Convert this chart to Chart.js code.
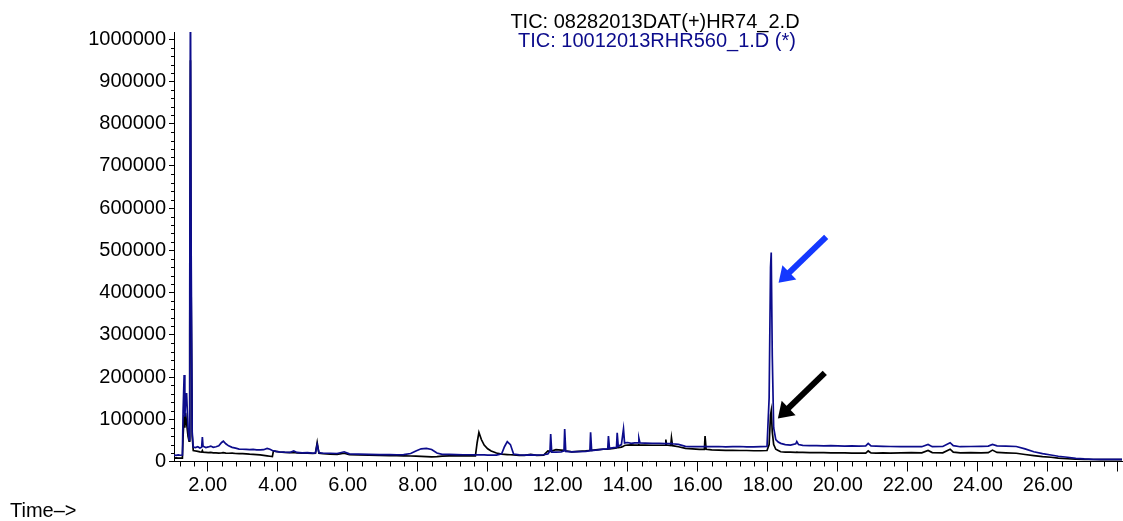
<!DOCTYPE html>
<html>
<head>
<meta charset="utf-8">
<script src="https://cdn.jsdelivr.net/npm/chart.js@4.4.0/dist/chart.umd.min.js"></script>
<style>
  html, body { margin: 0; padding: 0; background: #fff; }
  canvas { display: block; }
</style>
</head>
<body>
<canvas id="ticChart" width="1123" height="521"></canvas>
<script>
// Retention time (min) and total ion current for the two runs
const retTime = [
    // solvent front
    1.04, 1.10, 1.16, 1.22, 1.28, 1.30, 1.33, 1.35, 1.37, 1.40, 1.44, 1.47, 1.49, 1.51, 1.53, 1.56, 1.59,
    1.65, 1.72, 1.78, 1.83, 1.85, 1.87, 1.95, 2.02, 2.09, 2.16, 2.24, 2.32, 2.40, 2.45, 2.52, 2.60, 2.70, 2.80, 2.90, 3.00,
    3.10, 3.20, 3.30, 3.40, 3.50, 3.60, 3.70, 3.78, 3.85, 3.88, 3.95, 4.05, 4.20, 4.35, 4.46, 4.55, 4.70, 4.85, 5.00, 5.08, 5.13, 5.18, 5.30, 5.50, 5.70, 5.90,
    6.05, 6.30, 6.60, 6.90, 7.20, 7.40, 7.60, 7.80, 7.95, 8.10, 8.25, 8.40, 8.55, 8.70, 8.90, 9.10, 9.30, 9.50, 9.65,
    9.70, 9.75, 9.82, 9.90, 10.00, 10.10, 10.25, 10.40, 10.48, 10.56, 10.65, 10.74, 10.90, 11.05, 11.23, 11.40, 11.60,
    11.72, 11.78, 11.80, 11.83, 11.95, 12.10, 12.18, 12.20, 12.23, 12.40, 12.60, 12.80, 12.92, 12.94, 12.97, 13.15, 13.30, 13.43, 13.45, 13.48, 13.60, 13.68, 13.70, 13.73, 13.82, 13.88, 13.91,
    14.00, 14.10, 14.20, 14.30, 14.32, 14.35, 14.50, 14.70, 14.90, 15.07, 15.09, 15.11, 15.23, 15.25, 15.28, 15.45, 15.65, 15.85, 16.05, 16.19, 16.21, 16.24, 16.40, 16.60, 16.80, 17.00, 17.20, 17.40, 17.60, 17.80, 17.98,
    18.04, 18.08, 18.10, 18.13, 18.17, 18.23, 18.30, 18.37, 18.50, 18.65, 18.80, 18.83, 18.88, 19.00, 19.20, 19.40, 19.60, 19.80, 20.00, 20.20, 20.40, 20.60, 20.80, 20.87, 20.95,
    21.10, 21.30, 21.50, 21.80, 22.10, 22.40, 22.58, 22.70, 23.00, 23.21, 23.30, 23.50, 23.80, 24.10, 24.30, 24.42, 24.55, 24.80, 25.10, 25.35, 25.60, 25.85, 26.09, 26.30, 26.56, 26.80, 27.04, 27.30, 27.50, 27.80, 28.12
];

// 08282013DAT(+)HR74_2.D
const ticBlack = [
    8000, 8500, 7800, 8200, 8000, 60000, 110000, 80000, 115000, 90000, 60000, 48000, 300000, 950000, 400000, 60000, 26000,
    25000, 24000, 23000, 22500, 26000, 22000, 21500, 21000, 21500, 20500, 20500, 20000, 20500, 21000, 20000, 19500, 19800, 19000, 18800, 18500,
    18200, 17500, 17000, 16500, 15500, 14500, 13500, 12500, 11500, 25000, 24000, 22500, 21500, 21000, 21500, 20500, 20000, 19500, 19000, 19500, 45000, 19500, 18500, 17500, 17000, 19500,
    16500, 15500, 15000, 14500, 14000, 14000, 13500, 13000, 12500, 12000, 11500, 11000, 11500, 12500, 13500, 13500, 13500, 13500, 13500,
    45000, 69000, 52000, 39000, 30000, 25000, 20000, 17500, 17000, 16500, 16000, 15500, 14500, 14500, 17000, 14500, 15000,
    25000, 24000, 24000, 25000, 28000, 27000, 26500, 26500, 25500, 23000, 24000, 25000, 26000, 26000, 26500, 28000, 29000, 29500, 30000, 30000, 31000, 32000, 33000, 33000, 34000, 36000, 38000,
    39000, 39500, 39000, 39000, 39500, 39000, 39000, 38500, 38500, 39000, 52000, 39000, 38000, 56000, 37500, 35000, 31000, 30000, 28500, 28500, 60000, 29000, 27500, 27000, 26500, 26500, 26000, 26000, 25500, 25500, 26000,
    40000, 110000, 120000, 70000, 40000, 29000, 26000, 23000, 22000, 22000, 21800, 22000, 21800, 21500, 21000, 21000, 21000, 20500, 20500, 20500, 20000, 20000, 20000, 25000, 20500,
    20000, 20500, 20000, 20500, 21000, 20500, 26000, 21000, 20500, 29000, 22000, 20500, 21000, 20500, 21000, 27000, 21500, 20500, 19500, 16500, 13800, 11500, 10000, 8000, 6500, 5500, 5000, 4700, 4500, 4500, 4500
];

// 10012013RHR560_1.D (*)
const ticBlue = [
    15000, 14500, 15500, 14800, 15200, 120000, 205000, 106000, 140000, 162000, 80000, 51000, 400000, 1150000, 500000, 70000, 34000,
    33000, 35000, 32000, 34000, 58000, 36000, 33000, 34500, 36500, 33500, 35000, 37000, 45000, 48000, 42000, 37000, 33500, 31500, 29500, 29000,
    28500, 28000, 28500, 27500, 27500, 28000, 31000, 29000, 26000, 25500, 24000, 23000, 22000, 21500, 25000, 21500, 20500, 21000, 20000, 20500, 40000, 21000, 19500, 19500, 19000, 23000,
    18000, 17500, 17000, 16500, 16500, 16000, 16500, 19000, 25000, 30000, 31000, 28500, 20000, 17000, 17000, 16500, 16000, 16000, 15500,
    15500, 15500, 15500, 15500, 15000, 15000, 15000, 18000, 35000, 47000, 40000, 17500, 15500, 15000, 15500, 15000, 16000,
    18000, 25000, 65000, 22000, 22000, 23000, 25000, 77000, 24000, 23000, 23500, 24000, 25500, 69000, 26000, 27500, 29500, 30000, 60000, 31000, 33000, 33500, 68000, 36000, 40000, 77000, 44000,
    45000, 43000, 44000, 44000, 55000, 44000, 43500, 43000, 43000, 42500, 43000, 42500, 42500, 43000, 42000, 40500, 36000, 35000, 35500, 35000, 36000, 35000, 35000, 35500, 34500, 35000, 35500, 34500, 34500, 35000, 35500,
    150000, 460000, 495000, 250000, 80000, 52000, 46000, 43000, 40000, 39000, 42000, 47000, 40000, 38000, 37500, 37500, 37000, 37500, 37000, 36500, 37000, 36500, 37000, 43000, 37000,
    36500, 36000, 35500, 35000, 35500, 35000, 40500, 35000, 35500, 44500, 37500, 35000, 35500, 36000, 36500, 40500, 37000, 36500, 35500, 30000, 23000, 18500, 15400, 12500, 10000, 7500, 6000, 5200, 5000, 5000, 5000
];

// abundance tick labels
const abundanceTicks = [0, 100000, 200000, 300000, 400000, 500000, 600000, 700000, 800000, 900000, 1000000];

// arrows pointing at the 18.1 min peak, [time, abundance]
const arrowTails = [[19.67, 532000], [19.63, 210000]];
const arrowTips = [[18.31, 423000], [18.29, 102000]];

const headerLines = ['TIC: 08282013DAT(+)HR74_2.D', 'TIC: 10012013RHR560_1.D (*)'];

const timeRange = [1.04, 28.12];
const abundanceMax = 1017000;
const xMajorStep = 2;
const xMinorStep = 0.4;
const yMajorStep = 100000;
const yMinorStep = 20000;

const FONT = '"Liberation Sans", Arial, sans-serif';
const NAVY = '#0c0c8c';

// short minor tick marks on both axes
const minorTicks = {
    id: 'minorTicks',
    afterDraw(chart) {
        const { ctx, chartArea, scales: { x, y } } = chart;
        ctx.save();
        ctx.strokeStyle = '#000';
        ctx.lineWidth = 1;
        ctx.beginPath();
        for (let k = 0; k * yMinorStep <= y.max; k++) {
            if ((k * yMinorStep) % yMajorStep === 0) continue;
            const py = Math.round(y.getPixelForValue(k * yMinorStep)) + 0.5;
            ctx.moveTo(chartArea.left - 3, py);
            ctx.lineTo(chartArea.left, py);
        }
        for (let k = Math.ceil(x.min / xMinorStep); k * xMinorStep <= x.max; k++) {
            if (k % 5 === 0) continue;
            const px = Math.round(x.getPixelForValue(k * xMinorStep)) + 0.5;
            ctx.moveTo(px, chartArea.bottom);
            ctx.lineTo(px, chartArea.bottom + 5);
        }
        ctx.stroke();
        ctx.restore();
    }
};

// thick arrows with a filled head
const peakArrows = {
    id: 'peakArrows',
    afterDatasetsDraw(chart) {
        const { ctx, scales: { x, y } } = chart;
        const colors = ['#1438ff', '#000'];
        ctx.save();
        arrowTails.forEach((tail, i) => {
            const x0 = x.getPixelForValue(tail[0]), y0 = y.getPixelForValue(tail[1]);
            const x1 = x.getPixelForValue(arrowTips[i][0]), y1 = y.getPixelForValue(arrowTips[i][1]);
            const len = Math.hypot(x1 - x0, y1 - y0);
            const dx = (x1 - x0) / len, dy = (y1 - y0) / len;
            const headLen = 15, headHalf = 10;
            const bx = x1 - dx * headLen, by = y1 - dy * headLen;
            ctx.strokeStyle = colors[i];
            ctx.fillStyle = colors[i];
            ctx.lineWidth = 6;
            ctx.lineCap = 'butt';
            ctx.beginPath();
            ctx.moveTo(x0, y0);
            ctx.lineTo(bx + dx, by + dy);
            ctx.stroke();
            ctx.beginPath();
            ctx.moveTo(x1, y1);
            ctx.lineTo(bx - dy * headHalf, by + dx * headHalf);
            ctx.lineTo(bx + dy * headHalf, by - dx * headHalf);
            ctx.closePath();
            ctx.fill();
        });
        ctx.restore();
    }
};

// file names on top and the time label under the y axis
const headerText = {
    id: 'headerText',
    afterDraw(chart) {
        const { ctx } = chart;
        ctx.save();
        ctx.font = '20px ' + FONT;
        ctx.textBaseline = 'alphabetic';
        ctx.textAlign = 'center';
        ctx.fillStyle = '#000';
        ctx.fillText(headerLines[0], 655, 28);
        ctx.fillStyle = NAVY;
        ctx.fillText(headerLines[1], 657, 47);
        ctx.textAlign = 'left';
        ctx.fillStyle = '#000';
        ctx.fillText('Time\u2013>', 10, 517);
        ctx.restore();
    }
};

const toPoints = values => retTime.map((t, i) => ({ x: t, y: values[i] }));

new Chart(document.getElementById('ticChart'), {
    type: 'line',
    data: {
        datasets: [
            {
                label: headerLines[1],
                data: toPoints(ticBlue),
                borderColor: NAVY,
                borderWidth: 1.7,
                pointRadius: 0,
                tension: 0
            },
            {
                label: headerLines[0],
                data: toPoints(ticBlack),
                borderColor: '#000',
                borderWidth: 1.7,
                pointRadius: 0,
                tension: 0
            }
        ]
    },
    options: {
        responsive: false,
        animation: false,
        events: [],
        layout: { padding: { top: 32, right: 1, left: 0, bottom: 0 } },
        plugins: {
            legend: { display: false },
            tooltip: { enabled: false }
        },
        scales: {
            x: {
                type: 'linear',
                min: timeRange[0],
                max: timeRange[1],
                border: { color: '#000', width: 1 },
                grid: { drawOnChartArea: false, tickLength: 10, tickColor: '#000', tickWidth: 1 },
                ticks: {
                    stepSize: xMajorStep,
                    includeBounds: false,
                    autoSkip: false,
                    maxRotation: 0,
                    color: '#000',
                    padding: 2,
                    font: { family: FONT, size: 20 },
                    callback: value => value >= 28 ? '' : value.toFixed(2)
                },
                afterFit: scale => { scale.height = 59.5; }
            },
            y: {
                min: 0,
                max: abundanceMax,
                border: { color: '#000', width: 1 },
                grid: { drawOnChartArea: false, tickLength: 5, tickColor: '#000', tickWidth: 1 },
                ticks: {
                    autoSkip: false,
                    color: '#000',
                    padding: 3,
                    font: { family: FONT, size: 20 },
                    callback: value => String(value)
                },
                afterBuildTicks: scale => {
                    scale.ticks = abundanceTicks.map(v => ({ value: v }));
                },
                afterFit: scale => { scale.width = 174; }
            }
        }
    },
    plugins: [minorTicks, peakArrows, headerText]
});
</script>
</body>
</html>
